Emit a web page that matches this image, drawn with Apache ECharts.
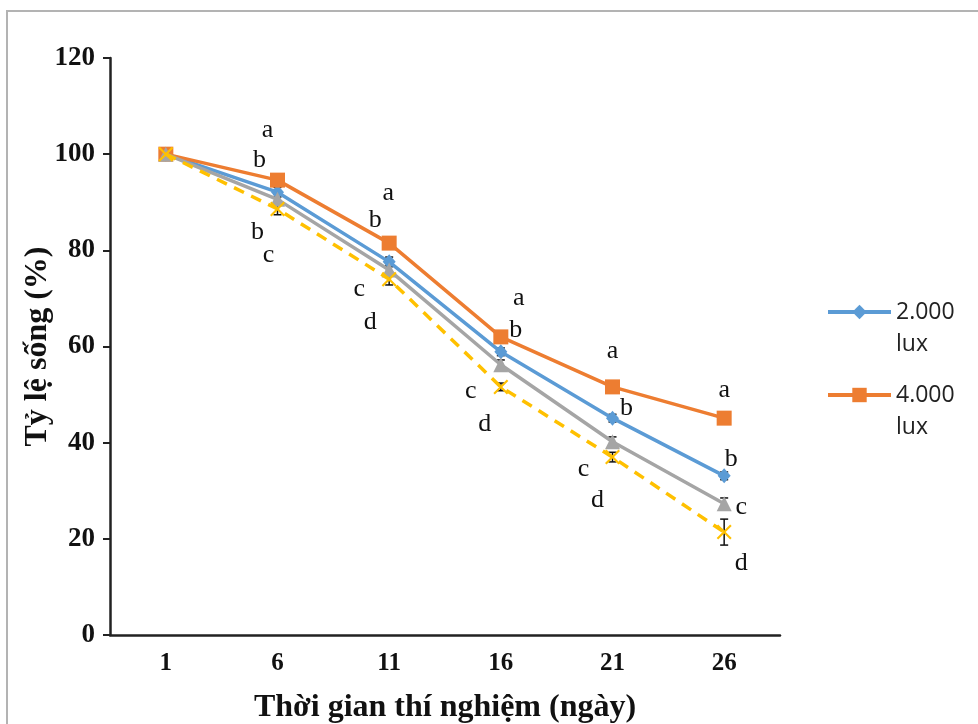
<!DOCTYPE html>
<html>
<head>
<meta charset="utf-8">
<script src="https://cdn.jsdelivr.net/npm/echarts@6/dist/echarts.min.js"></script>
<style>html,body{margin:0;padding:0;background:#fff}#c{width:978px;height:724px}</style>
</head>
<body>
<div id="c"></div>
<script>
var categories = ['1', '6', '11', '16', '21', '26'];
var seriesNames = ['2.000 lux', '4.000 lux', '6.000 lux', '8.000 lux'];
var lux2000 = [100, 92.1, 77.6, 58.9, 45.1, 33.1];
var lux4000 = [100, 94.6, 81.5, 62.0, 51.6, 45.1];
var lux6000 = [100, 90.6, 75.9, 56.2, 40.2, 27.3];
var lux8000 = [100, 88.6, 74.0, 51.6, 37.0, 21.4];
var err2000 = [0, 1.0, 1.0, 0.8, 0.8, 0.8];
var err4000 = [0, 0.5, 0.5, 0.5, 0.5, 0.5];
var err6000 = [0, 1.0, 1.0, 1.0, 1.0, 1.2];
var err8000 = [0, 1.2, 1.2, 0.8, 1.0, 2.7];
var letters2000 = ['', 'b', 'b', 'b', 'b', 'b'];
var letters4000 = ['', 'a', 'a', 'a', 'a', 'a'];
var letters6000 = ['', 'b', 'c', 'c', 'c', 'c'];
var letters8000 = ['', 'c', 'd', 'd', 'd', 'd'];
var yTicks = [0, 20, 40, 60, 80, 100, 120];

var serif = '"Liberation Serif", "Times New Roman", serif';
var offsets = [
  [null, [-18, -32], [-14, -42], [15, -22], [14, -10], [7, -17]],
  [null, [-10, -50], [-1, -50], [18, -39], [0, -36], [0, -28]],
  [null, [-20, 33], [-30, 19], [-30, 26], [-29, 27], [17, 3]],
  [null, [-9, 46], [-19, 43], [-16, 37], [-15, 43], [17, 31]]
];
var values = [lux2000, lux4000, lux6000, lux8000];
var errs = [err2000, err4000, err6000, err8000];
var letters = [letters2000, letters4000, letters6000, letters8000];
var colors = ['#5B9BD5', '#ED7D31', '#A5A5A5', '#FFC000'];
var symbols = ['diamond', 'rect', 'triangle',
  'path://M0,1 L1,0 L5,4 L9,0 L10,1 L6,5 L10,9 L9,10 L5,6 L1,10 L0,9 L4,5 Z'];
var sizes = [[13, 15], 15, 15, 15];

function buildData(i) {
  return values[i].map(function (v, j) {
    var d = { value: v };
    if (letters[i][j]) {
      d.label = {
        show: true, formatter: letters[i][j], position: 'inside',
        offset: offsets[i][j], color: '#111', fontFamily: serif, fontSize: 26
      };
    }
    return d;
  });
}

var series = [];
for (var k = 0; k < 4; k++) {
  (function (idx) {
    series.push({
      type: 'custom', silent: true, z: 1,
      data: values[idx].map(function (v, j) { return [j, v, errs[idx][j]]; }),
      renderItem: function (params, api) {
        var x = api.value(0), v = api.value(1), e = api.value(2);
        if (!e) return null;
        var top = api.coord([x, v + e]);
        var bot = api.coord([x, v - e]);
        var w = 4;
        var st = { stroke: '#111', lineWidth: 1.5 };
        return {
          type: 'group', children: [
            { type: 'line', shape: { x1: top[0], y1: top[1], x2: bot[0], y2: bot[1] }, style: st },
            { type: 'line', shape: { x1: top[0] - w, y1: top[1], x2: top[0] + w, y2: top[1] }, style: st },
            { type: 'line', shape: { x1: bot[0] - w, y1: bot[1], x2: bot[0] + w, y2: bot[1] }, style: st }
          ]
        };
      }
    });
  })(k);
}
for (var i = 0; i < 4; i++) {
  series.push({
    name: seriesNames[i], type: 'line', data: buildData(i),
    symbol: symbols[i], symbolSize: sizes[i],
    lineStyle: { color: colors[i], width: 3.5, type: i === 3 ? [11, 8] : 'solid' },
    itemStyle: { color: colors[i] },
    emphasis: { disabled: true },
    z: 2 + i
  });
}

var chart = echarts.init(document.getElementById('c'));
chart.setOption({
  backgroundColor: '#fff',
  animation: false,
  graphic: [{
    type: 'rect', shape: { x: 7, y: 11, width: 1200, height: 1200 },
    style: { fill: 'none', stroke: '#b3b3b3', lineWidth: 2 }, silent: true
  }],
  grid: { left: 110, right: 198, top: 58, bottom: 89, outerBoundsMode: 'none', containLabel: false },
  legend: {
    data: [seriesNames[0], seriesNames[1]],
    orient: 'vertical', left: 826, top: 264, padding: 0,
    itemWidth: 63, itemHeight: 18, itemGap: -13,
    lineStyle: { width: 4 },
    formatter: function (n) { return '\n' + n.replace(' ', '\n'); },
    textStyle: {
      fontFamily: '"Open Sans", "Noto Sans", sans-serif', fontSize: 23, color: '#222',
      lineHeight: 32
    }
  },
  xAxis: {
    type: 'category', data: categories, boundaryGap: true,
    name: 'Thời gian thí nghiệm (ngày)', nameLocation: 'middle', nameGap: 57,
    nameMoveOverlap: false,
    nameTextStyle: { fontFamily: serif, fontWeight: 'bold', fontSize: 32, color: '#111' },
    axisLine: { lineStyle: { color: '#222', width: 2.5 } },
    axisTick: { alignWithLabel: true, length: 7, lineStyle: { color: '#222', width: 2 } },
    axisLabel: { margin: 16, fontFamily: serif, fontWeight: 'bold', fontSize: 25, color: '#111' }
  },
  yAxis: {
    type: 'value', min: yTicks[0], max: yTicks[yTicks.length - 1], interval: 20,
    name: 'Tỷ lệ sống (%)', nameLocation: 'middle', nameGap: 56,
    nameMoveOverlap: false,
    nameTextStyle: { fontFamily: serif, fontWeight: 'bold', fontSize: 32, color: '#111' },
    axisLine: { show: true, lineStyle: { color: '#222', width: 2.5 } },
    axisTick: { show: true, length: 7, lineStyle: { color: '#222', width: 2 } },
    splitLine: { show: false },
    axisLabel: { margin: 15, fontFamily: serif, fontWeight: 'bold', fontSize: 27, color: '#111' }
  },
  series: series
});
</script>
</body>
</html>
